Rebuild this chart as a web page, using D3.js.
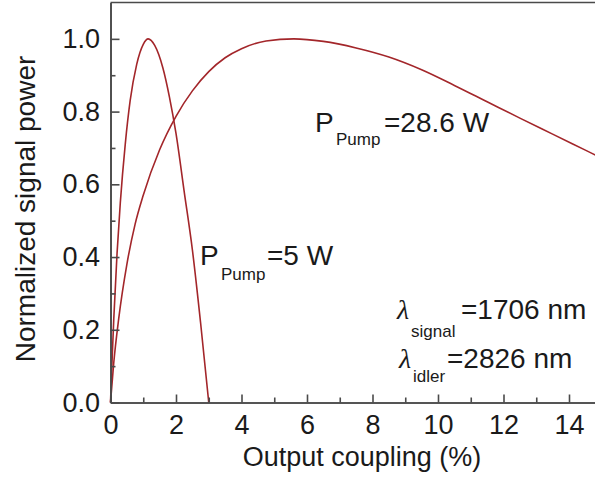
<!DOCTYPE html>
<html lang="en">
	<head>
		<meta charset="utf-8">
		<title>Normalized signal power vs output coupling</title>
		<script type="text/javascript" src="https://cdnjs.cloudflare.com/ajax/libs/d3/7.8.5/d3.min.js"></script>
		<style type="text/css">
			body { margin: 0; background: #fff; }
			text { font-family: "Liberation Sans", Arial, sans-serif; fill: #1a1a1a; }
		</style>
	</head>
	<body>
		<script type="text/javascript">

			//Width and height
			var w = 595;
			var h = 489;

			//Output coupling (%) and normalized power
			var couplingLow = [0, 0.05, 0.1, 0.2, 0.3, 0.45, 0.6, 0.8, 1.0, 1.15, 1.35, 1.6, 1.8, 2.0, 2.25, 2.5, 2.75, 3.0];
			var powerLow    = [0, 0.12, 0.23, 0.41, 0.55, 0.71, 0.83, 0.93, 0.985, 1.0, 0.982, 0.92, 0.84, 0.74, 0.58, 0.42, 0.22, 0];

			var couplingHigh = [0, 0.1, 0.25, 0.5, 0.75, 1.0, 1.5, 2.0, 2.5, 3.0, 3.5, 4.0, 4.75, 5.6, 6.5, 7.5, 8.5, 9.5, 10.5, 11.5, 12.5, 13.5, 14.5, 15];
			var powerHigh    = [0, 0.11, 0.23, 0.38, 0.49, 0.57, 0.695, 0.787, 0.857, 0.91, 0.948, 0.973, 0.994, 1.0, 0.993, 0.975, 0.95, 0.915, 0.872, 0.827, 0.782, 0.738, 0.694, 0.672];

			var xTicks = [0, 2, 4, 6, 8, 10, 12, 14];
			var xMinor = [1, 3, 5, 7, 9, 11, 13, 15];
			var yTicks = [0, 0.2, 0.4, 0.6, 0.8, 1.0];
			var yMinor = [0.1, 0.3, 0.5, 0.7, 0.9];

			var lineColor = "#a3262a";
			var axisColor = "#4a4a4a";

			var xScale = d3.scaleLinear().domain([0, 15]).range([110.5, 601.75]);
			var yScale = d3.scaleLinear().domain([0, 1.1]).range([402.5, 2.5]);

			var svg = d3.select("body")
						.append("svg")
						.attr("width", w)
						.attr("height", h);

			//Curves
			var line = d3.line()
						.x(function(d) { return xScale(d[0]); })
						.y(function(d) { return yScale(d[1]); })
						.curve(d3.curveMonotoneX);

			var series = [d3.zip(couplingLow, powerLow), d3.zip(couplingHigh, powerHigh)];

			svg.selectAll("path.curve")
				.data(series)
				.enter()
				.append("path")
				.attr("class", "curve")
				.attr("d", line)
				.attr("fill", "none")
				.attr("stroke", lineColor)
				.attr("stroke-width", 1.6);

			//Axes, ticks pointing inward
			var xAxis = d3.axisBottom(xScale).tickValues(xTicks).tickSizeInner(-8).tickSizeOuter(0).tickPadding(12)
						.tickFormat(d3.format("d"));
			var xAxisMinor = d3.axisBottom(xScale).tickValues(xMinor).tickSizeInner(-5).tickSizeOuter(0).tickFormat("");
			var yAxis = d3.axisLeft(yScale).tickValues(yTicks).tickSizeInner(-9).tickSizeOuter(0).tickPadding(10.5)
						.tickFormat(d3.format(".1f"));
			var yAxisMinor = d3.axisLeft(yScale).tickValues(yMinor).tickSizeInner(-5).tickSizeOuter(0).tickFormat("");

			function styleAxis(g) {
				g.selectAll("path, line").attr("stroke", axisColor).attr("stroke-width", 1.6);
				g.selectAll("text").attr("font-size", "27px").attr("fill", "#1a1a1a")
					.attr("font-family", "'Liberation Sans', Arial, sans-serif");
			}

			svg.append("g").attr("transform", "translate(0," + yScale(0) + ")").call(xAxisMinor).call(styleAxis);
			svg.append("g").attr("transform", "translate(0," + yScale(0) + ")").call(xAxis).call(styleAxis);
			svg.append("g").attr("transform", "translate(" + xScale(0) + ",0)").call(yAxisMinor).call(styleAxis);
			svg.append("g").attr("transform", "translate(" + xScale(0) + ",0)").call(yAxis).call(styleAxis);

			//Top frame
			svg.append("line")
				.attr("x1", xScale(0)).attr("x2", xScale(15))
				.attr("y1", yScale(1.1)).attr("y2", yScale(1.1))
				.attr("stroke", axisColor).attr("stroke-width", 1.6);

			//Axis titles
			svg.append("text")
				.attr("x", 362).attr("y", 466)
				.attr("text-anchor", "middle")
				.attr("font-size", "27px")
				.text("Output coupling (%)");

			svg.append("text")
				.attr("transform", "translate(35,209) rotate(-90)")
				.attr("text-anchor", "middle")
				.attr("font-size", "28px")
				.text("Normalized signal power");

			//Annotations: main symbol, subscript, rest of the label
			var labels = [
				{ main: "P", sub: "Pump", rest: "=28.6 W", x: 315, y: 132, drop: 13, restX: 384, italic: false },
				{ main: "P", sub: "Pump", rest: "=5 W", x: 200, y: 265, drop: 14.5, restX: 267, italic: false },
				{ main: "\u03bb", sub: "signal", rest: "=1706 nm", x: 397, y: 319, drop: 18, restX: 461, italic: true },
				{ main: "\u03bb", sub: "idler", rest: "=2826 nm", x: 399, y: 368, drop: 13.5, restX: 447, italic: true }
			];

			labels.forEach(function(d) {
				var t = svg.append("text").attr("y", d.y);
				t.append("tspan")
					.attr("x", d.x)
					.attr("font-size", "28px")
					.attr("font-style", d.italic ? "italic" : "normal")
					.attr("font-family", d.italic ? "'Liberation Serif', serif" : null)
					.text(d.main);
				t.append("tspan")
					.attr("x", d.italic ? d.x + 14 : d.x + 21)
					.attr("y", d.y + d.drop)
					.attr("font-size", "17px")
					.text(d.sub);
				t.append("tspan")
					.attr("x", d.restX)
					.attr("y", d.y)
					.attr("font-size", "28px")
					.text(d.rest);
			});

		</script>
	</body>
</html>
